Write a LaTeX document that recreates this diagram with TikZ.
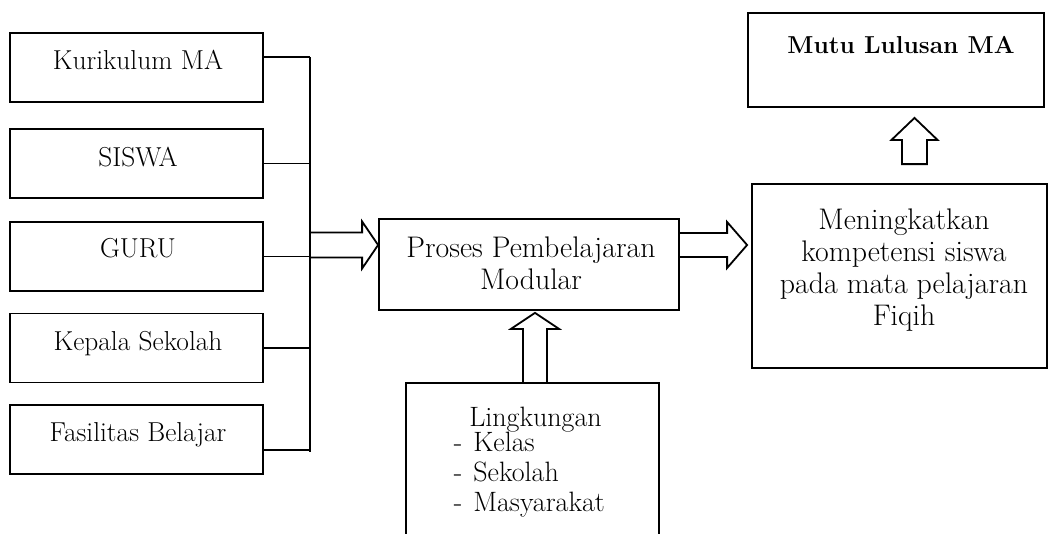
\documentclass[tikz,border=0pt]{standalone}
\usetikzlibrary{calc}
\begin{document}
\begin{tikzpicture}[x=1pt,y=-1pt,line width=1.8pt,
  box/.style={draw,line width=1.8pt,inner sep=0pt},
  lbox/.style={box,minimum width=253pt,minimum height=69pt},
  ltxt/.style={font=\fontsize{27.4}{32}\selectfont,inner sep=0pt,anchor=base},
  ctxt/.style={font=\fontsize{29.8}{31.7}\selectfont,inner sep=0pt,align=center},
  itxt/.style={font=\fontsize{28}{30}\selectfont,inner sep=0pt},
  blk/.style={draw,line width=1.8pt,line join=miter}]
\useasboundingbox (0,0) rectangle (1049,533);
% left boxes
\node[lbox] (k)  at (136.5,67.5) {};
\node[lbox] (s)  at (136.5,163.5) {};
\node[lbox] (g)  at (136.5,256.5) {};
\node[lbox] (kp) at (136.5,348) {};
\node[lbox] (f)  at (136.5,439.5) {};
\node[ltxt] (kt)  at (138,69.5) {Kurikulum MA};
\node[ltxt] (st)  at (138,166) {SISWA};
\node[ltxt] (gt)  at (138,257.5) {GURU};
\node[ltxt] (kpt) at (138,350) {Kepala Sekolah};
\node[ltxt] (ft)  at (138,441.5) {Fasilitas Belajar};
% centre and right boxes
\node[box,minimum width=300pt,minimum height=91pt] (p) at (529,264.5) {};
\node[ctxt] (pt) at (531,263.2) {Proses Pembelajaran\\Modular};
\node[box,minimum width=295pt,minimum height=184pt] (m) at (899.5,276) {};
\node[ctxt] (mt) at (904,270.1) {Meningkatkan\\kompetensi siswa\\pada mata pelajaran\\Fiqih};
\node[box,minimum width=296pt,minimum height=94pt] (mu) at (896,60) {};
\node[ltxt,font=\fontsize{24.5}{29}\selectfont\bfseries] (mut) at (901,53.3) {Mutu Lulusan MA};
\node[box,minimum width=253pt,minimum height=162pt] (l) at (532.5,464) {};
\node[itxt,anchor=base] (lt) at (535.5,426.7) {Lingkungan};
\node[itxt,anchor=base west] (l1) at (453,451.7) {-\hspace{11pt}Kelas};
\node[itxt,anchor=base west] (l2) at (453,481.7) {-\hspace{11pt}Sekolah};
\node[itxt,anchor=base west] (l3) at (453,511.7) {-\hspace{11pt}Masyarakat};
% bus
\coordinate (bt) at (310,57);
\coordinate (bb) at (310,452);
\draw (bt) -- (bb);
\draw ([yshift=10.5pt]k.east) -| (bt);
\draw (s.east) -- (s.east -| bt);
\draw (g.east) -- (g.east -| bt);
\draw (kp.east) -- (kp.east -| bt);
\draw ([yshift=-10.5pt]f.east) -| (bb);
% block arrow bus -> proses
\coordinate (t1) at ([yshift=19.5pt]p.west);
\draw[blk] ($(t1 -| bt)+(0,-12.5)$) -- ($(t1)+(-16,-12.5)$) -- ($(t1)+(-16,-23.5)$) -- (t1)
  -- ($(t1)+(-16,23.5)$) -- ($(t1)+(-16,12.5)$) -- ($(t1 -| bt)+(0,12.5)$);
% block arrow proses -> meningkatkan
\coordinate (t2) at ([xshift=-4pt]m.west |- t1);
\draw[blk] ($(t2 -| p.east)+(0,-12)$) -- ($(t2)+(-20,-12)$) -- ($(t2)+(-20,-23)$) -- (t2)
  -- ($(t2)+(-20,23)$) -- ($(t2)+(-20,12)$) -- ($(t2 -| p.east)+(0,12)$);
% block arrow lingkungan -> proses
\coordinate (t3) at ([xshift=6pt,yshift=-2pt]p.south);
\draw[blk] ($(t3 |- l.north)+(-12,0)$) -- ($(t3)+(-12,16)$) -- ($(t3)+(-24,16)$) -- (t3)
  -- ($(t3)+(24,16)$) -- ($(t3)+(12,16)$) -- ($(t3 |- l.north)+(12,0)$);
% block arrow meningkatkan -> mutu
\coordinate (t4) at ([xshift=18.5pt,yshift=-10pt]mu.south);
\coordinate (b4) at ($(t4 |- m.north)+(0,-19)$);
\draw[blk] ($(b4)+(-12.5,0)$) -- ($(t4)+(-12.5,22)$) -- ($(t4)+(-23,22)$) -- (t4)
  -- ($(t4)+(23,22)$) -- ($(t4)+(12.5,22)$) -- ($(b4)+(12.5,0)$) -- cycle;
\end{tikzpicture}
\end{document}
